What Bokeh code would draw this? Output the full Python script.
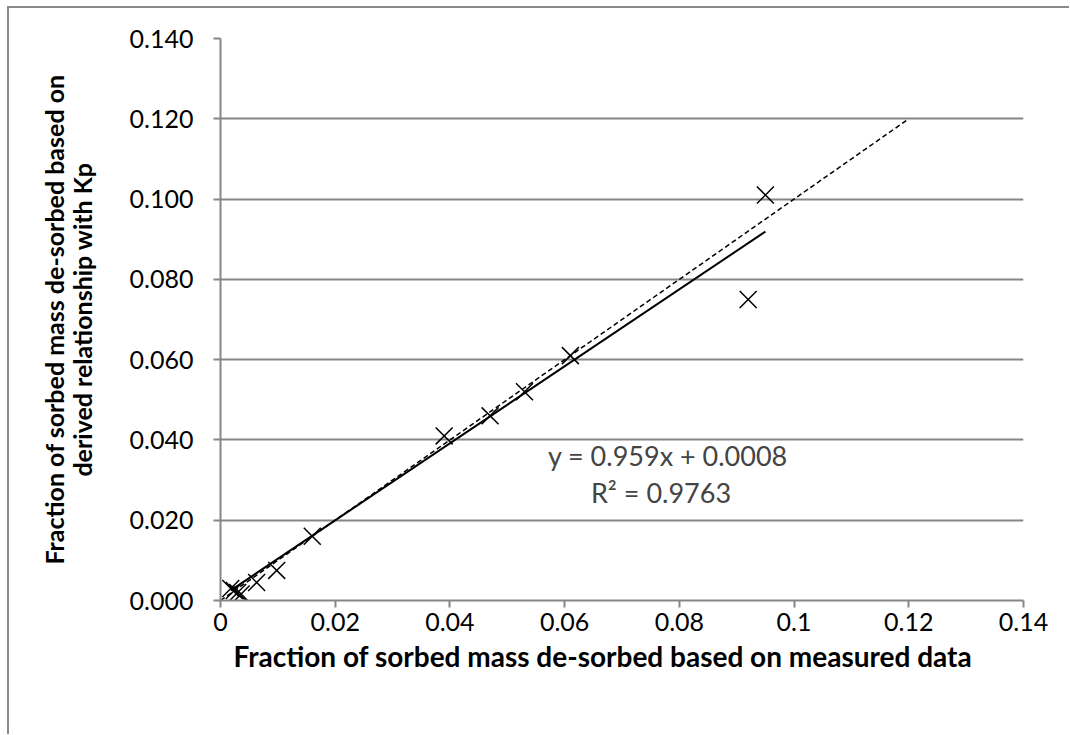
from bokeh.plotting import figure
from bokeh.models import Range1d, FixedTicker, CustomJSTickFormatter, NumeralTickFormatter, Label, LinearAxis, Title
from bokeh.embed import file_html
from bokeh.resources import INLINE

# Data
measured = [0.0018, 0.0024, 0.0030, 0.0036, 0.0063, 0.0098, 0.0160, 0.0390, 0.0470, 0.0530, 0.0610, 0.0920, 0.0950]
derived = [0.0030, 0.0025, 0.0020, 0.0016, 0.0045, 0.0075, 0.0160, 0.0410, 0.0460, 0.0520, 0.0610, 0.0750, 0.1010]

slope = 0.959
intercept = 0.0008
one_to_one_x = [0.0, 0.12]

x_ticks = [0, 0.02, 0.04, 0.06, 0.08, 0.10, 0.12, 0.14]
y_ticks = [0, 0.02, 0.04, 0.06, 0.08, 0.10, 0.12, 0.14]

x_title = "Fraction of sorbed mass de-sorbed based on measured data"
y_title_1 = "Fraction of sorbed mass de-sorbed based on"
y_title_2 = "derived relationship with Kp"

FONT = "Lato"
GRID = "#868686"

p = figure(width=1062, height=728, output_backend="svg", toolbar_location=None,
           x_range=Range1d(0, 0.14), y_range=Range1d(0, 0.14),
           min_border_left=211, min_border_right=48, min_border_top=30, min_border_bottom=136)
p.styles = {"border-left": "2px solid #8a8a8a", "border-top": "2px solid #8a8a8a",
            "margin-left": "7px", "margin-top": "6px"}
p.outline_line_color = None
p.background_fill_color = "white"
p.border_fill_color = "white"

p.xgrid.grid_line_color = None
p.ygrid.grid_line_color = GRID
p.ygrid.grid_line_width = 2

p.xaxis.ticker = FixedTicker(ticks=x_ticks)
p.yaxis.ticker = FixedTicker(ticks=y_ticks)
p.xaxis.formatter = CustomJSTickFormatter(code="return String(Number(tick.toFixed(2)));")
p.yaxis.formatter = NumeralTickFormatter(format="0.000")

for ax in (p.xaxis, p.yaxis):
    ax.axis_line_color = GRID
    ax.axis_line_width = 2
    ax.major_tick_line_color = GRID
    ax.major_tick_line_width = 2
    ax.major_tick_out = 7
    ax.major_tick_in = 0
    ax.minor_tick_line_color = None
    ax.major_label_text_font = FONT
    ax.major_label_text_font_size = "25px"
    ax.major_label_text_color = "black"
    ax.axis_label_text_font = FONT
    ax.axis_label_text_font_style = "bold"
    ax.axis_label_text_color = "black"

p.yaxis.axis_label_text_font_size = "25px"
p.xaxis.major_label_standoff = 5
p.yaxis.major_label_standoff = 20
p.yaxis.axis_label = y_title_2
p.yaxis.axis_label_standoff = 30

# outer title line for y axis, as a bare axis
y_outer = LinearAxis(axis_label=y_title_1, ticker=FixedTicker(ticks=[]),
                     axis_line_color=None, major_tick_line_color=None, minor_tick_line_color=None,
                     major_label_text_font_size="0px", axis_label_standoff=-5,
                     axis_label_text_font=FONT, axis_label_text_font_size="25px",
                     axis_label_text_font_style="bold", axis_label_text_color="black")
p.add_layout(y_outer, "left")

# x axis title, placed slightly left of centre as in the original
p.add_layout(Title(text=x_title, align="left", offset=13, standoff=7, text_font=FONT,
                   text_font_size="28px", text_font_style="bold", text_color="black"), "below")

# 1:1 dashed line
p.line(one_to_one_x, one_to_one_x, line_color="black", line_width=1.5, line_dash="5 3")

# linear trend line
tx = [min(measured), max(measured)]
ty = [slope * v + intercept for v in tx]
p.line(tx, ty, line_color="black", line_width=2)

p.scatter(measured, derived, marker="x", size=24, line_color="black", line_width=1.5)

p.add_layout(Label(x=0.0780, y=0.0362, text="y = 0.959x + 0.0008", text_font=FONT,
                   text_font_size="27px", text_align="center", text_baseline="middle"))
p.add_layout(Label(x=0.0768, y=0.0270, text="R² = 0.9763", text_font=FONT,
                   text_font_size="27px", text_align="center", text_baseline="middle"))

open("out.html", "w").write(file_html(p, INLINE))
